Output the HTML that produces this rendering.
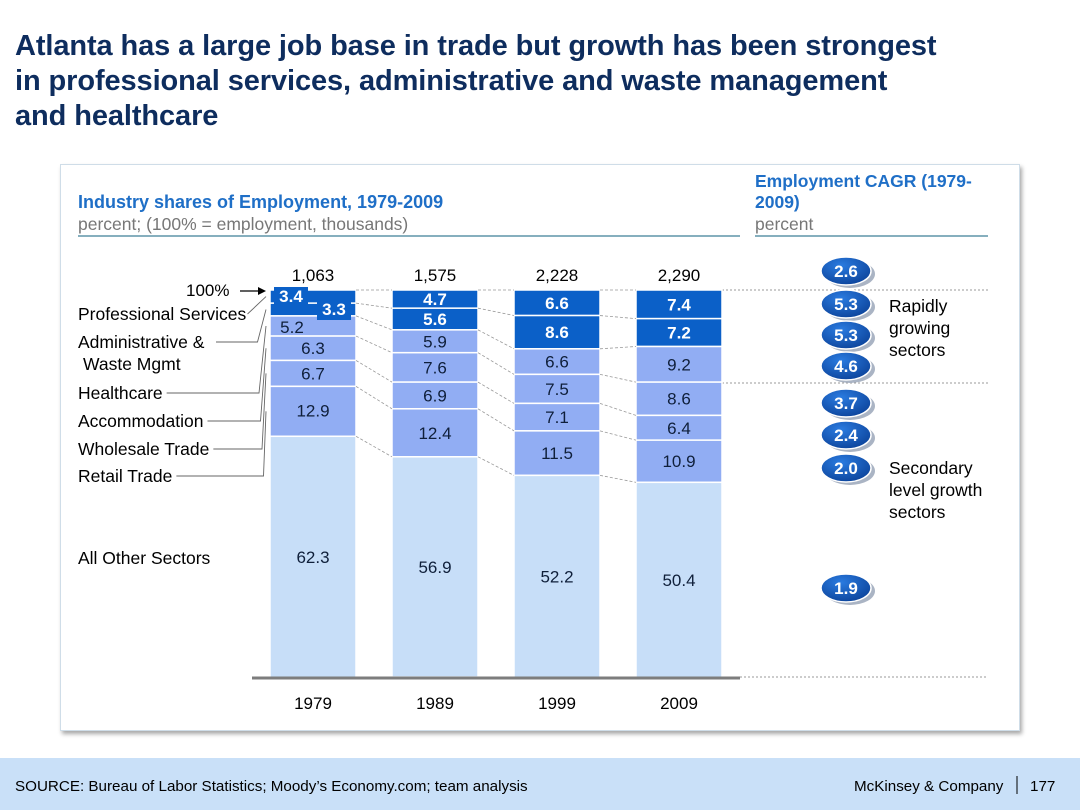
<!DOCTYPE html>
<html><head><meta charset="utf-8">
<style>
body{margin:0;width:1080px;height:810px;background:#fff;font-family:"Liberation Sans",Arial,sans-serif;overflow:hidden;position:relative}
.title{position:absolute;left:15px;top:29px;font-size:29px;font-weight:bold;color:#0e2d5e;line-height:35px;letter-spacing:-0.1px}
.panel{position:absolute;left:60px;top:164px;width:958px;height:565px;border:1px solid #cfdde8;box-shadow:2px 3px 4px #a9a9a9;background:#fff}
.footer{position:absolute;left:0;top:758px;width:1080px;height:52px;background:#c9e0f8}
svg{position:absolute;left:0;top:0}
</style></head>
<body>
<div class="title">Atlanta has a large job base in trade but growth has been strongest<br>in professional services, administrative and waste management<br>and healthcare</div>
<div class="panel"></div>
<div class="footer"></div>
<svg id="chart" width="1080" height="810" font-family="Liberation Sans, Arial, sans-serif">
<text x="78" y="208" font-size="18" font-weight="bold" fill="#1f6fc7">Industry shares of Employment, 1979-2009</text>
<text x="78" y="230" font-size="17.5" fill="#777">percent; (100% = employment, thousands)</text>
<line x1="78" y1="236" x2="740" y2="236" stroke="#3f7f96" stroke-width="1.2"/>
<text x="755" y="187" font-size="17.5" font-weight="bold" fill="#1f6fc7">Employment CAGR (1979-</text>
<text x="755" y="208" font-size="17.5" font-weight="bold" fill="#1f6fc7">2009)</text>
<text x="755" y="230" font-size="17.5" fill="#777">percent</text>
<line x1="755" y1="236" x2="988" y2="236" stroke="#3f7f96" stroke-width="1.2"/>
<line x1="722" y1="290" x2="988" y2="290" stroke="#999" stroke-dasharray="2,2"/>
<line x1="722" y1="383" x2="988" y2="383" stroke="#999" stroke-dasharray="2,2"/>
<line x1="740" y1="677" x2="988" y2="677" stroke="#999" stroke-dasharray="2,2"/>
<g id="bars"></g>
<line x1="252" y1="678" x2="740" y2="678" stroke="#7d7d7d" stroke-width="3"/>
<text x="186" y="296" font-size="17">100%</text>
<line x1="240" y1="291" x2="258" y2="291" stroke="#000" stroke-width="1.3"/>
<polygon points="258,287 266,291 258,295" fill="#000"/>
<g id="cagr"></g>
<text x="889" y="312" font-size="17.5"><tspan x="889">Rapidly</tspan><tspan x="889" dy="22">growing</tspan><tspan x="889" dy="22">sectors</tspan></text>
<text x="889" y="474" font-size="17.5"><tspan x="889">Secondary</tspan><tspan x="889" dy="22">level growth</tspan><tspan x="889" dy="22">sectors</tspan></text>
<text x="15" y="791" font-size="15.2">SOURCE: Bureau of Labor Statistics; Moody’s Economy.com; team analysis</text>
<text x="854" y="791" font-size="15.2">McKinsey &amp; Company</text>
<line x1="1017" y1="776" x2="1017" y2="794" stroke="#000"/>
<text x="1030" y="791" font-size="15.2">177</text>
</svg>
<script>
const years=["1979","1989","1999","2009"];
const totals=["1,063","1,575","2,228","2,290"];
const sectors=["Professional Services","Administrative & Waste Mgmt","Healthcare","Accommodation","Wholesale Trade","Retail Trade","All Other Sectors"];
const prof=[3.4,4.7,6.6,7.4];
const admin=[3.3,5.6,8.6,7.2];
const health=[5.2,5.9,6.6,9.2];
const accom=[6.3,7.6,7.5,8.6];
const wholesale=[6.7,6.9,7.1,6.4];
const retail=[12.9,12.4,11.5,10.9];
const other=[62.3,56.9,52.2,50.4];
const cagr=[2.6,5.3,5.3,4.6,3.7,2.4,2.0,1.9];

const NS="http://www.w3.org/2000/svg";
const series=[prof,admin,health,accom,wholesale,retail,other];
const colors=["#0b60c8","#0b60c8","#91adf3","#91adf3","#91adf3","#91adf3","#c7def8"];
const top0=290,bot=677,bw=86;
const xPos=i=>270+i*122;
const yScale=v=>(bot-top0)*v/100;
function mk(tag,attrs,parent){const e=document.createElementNS(NS,tag);for(const k in attrs)e.setAttribute(k,attrs[k]);parent.appendChild(e);return e;}
const g=document.getElementById('bars');
const bounds=[];
years.forEach((yr,i)=>{
  let y=top0;const b=[y];
  const x=xPos(i);
  const tot=mk('text',{x:x+bw/2,y:281,'font-size':17,'text-anchor':'middle'},g);tot.textContent=totals[i];
  
  
  const yl=mk('text',{x:x+bw/2,y:709,'font-size':17,'text-anchor':'middle'},g);yl.textContent=yr;
  
  
  series.forEach((s,k)=>{
    const h=yScale(s[i]);
    const r=mk('rect',{x:x,y:y,width:bw,height:h,fill:colors[k],stroke:'#fff','stroke-width':1.5},g);
    
    
    y+=h;b.push(y);
  });
  bounds.push(b);
});
years.forEach((yr,i)=>{
  const x=xPos(i);
  series.forEach((s,k)=>{
    const b=bounds[i];
    let cx=x+bw/2,cy=(b[k]+b[k+1])/2+6;
    const dark=k<2;
    if(i==0&&k<2){
      cx=k==0?x+21:x+64;cy=k==0?302:315;
      mk('rect',{x:cx-17,y:cy-15,width:34,height:20,fill:'#0b60c8'},g);
    }
    if(i==0&&k==2){cx=x+22;cy=b[k]+17;}
    if(k==5&&i==0)cy=b[k]+30;
    const t=mk('text',{x:cx,y:cy,'font-size':17,'text-anchor':'middle',fill:dark?'#fff':'#0f1f3a','font-weight':dark?'bold':'normal'},g);
    t.textContent=s[i].toFixed(1);
    
    
  });
});
for(let i=0;i<3;i++){
  for(let k=0;k<7;k++){
    mk('line',{x1:xPos(i)+bw,y1:bounds[i][k],x2:xPos(i+1),y2:bounds[i+1][k],stroke:'#999','stroke-width':0.8,'stroke-dasharray':'3,2'},g);
  }
}
const ly=[320,348,399,427,455,482,564];
sectors.forEach((s,k)=>{
  if(k==6){const t=mk('text',{x:78,y:564,'font-size':17.5},g);t.textContent=s;return;}
  const t=mk('text',{x:78,y:ly[k],'font-size':17.5},g);
  
  
  if(k==1){t.innerHTML='<tspan x="78">Administrative &amp;</tspan><tspan x="83" dy="22">Waste Mgmt</tspan>';}
  else t.textContent=s;
  const bb=t.getBBox();
  const ty=(bounds[0][k]+bounds[0][k+1])/2;
  const lyv=ly[k]-6;
  const sx=k==0?bb.x+bb.width+1:(k==1?216:bb.x+bb.width+4);
  const ex=k==0?bb.x+bb.width+1:256+k*1.5;
  mk('polyline',{points:`${sx},${lyv} ${ex},${lyv} ${266},${ty}`,fill:'none',stroke:'#666','stroke-width':0.9},g);
});
const cy=[271,304,335,366,403,435,468,588];
const cg=document.getElementById('cagr');
const defs=mk('defs',{},cg);
defs.innerHTML='<radialGradient id="bub" cx="0.4" cy="0.3" r="0.8"><stop offset="0" stop-color="#2a7be0"/><stop offset="1" stop-color="#0a3f95"/></radialGradient>';
cagr.forEach((v,i)=>{
  mk('ellipse',{cx:850,cy:cy[i]+3,rx:25,ry:14,fill:'#aab4c4'},cg);
  const e=mk('ellipse',{cx:846,cy:cy[i],rx:25,ry:14,fill:'url(#bub)',stroke:'#fff','stroke-width':1.5},cg);
  
  
  const t=mk('text',{x:846,y:cy[i]+6,'font-size':17,'font-weight':'bold','text-anchor':'middle',fill:'#fff'},cg);
  t.textContent=v.toFixed(1);
  
  
});
</script>
</body></html>
